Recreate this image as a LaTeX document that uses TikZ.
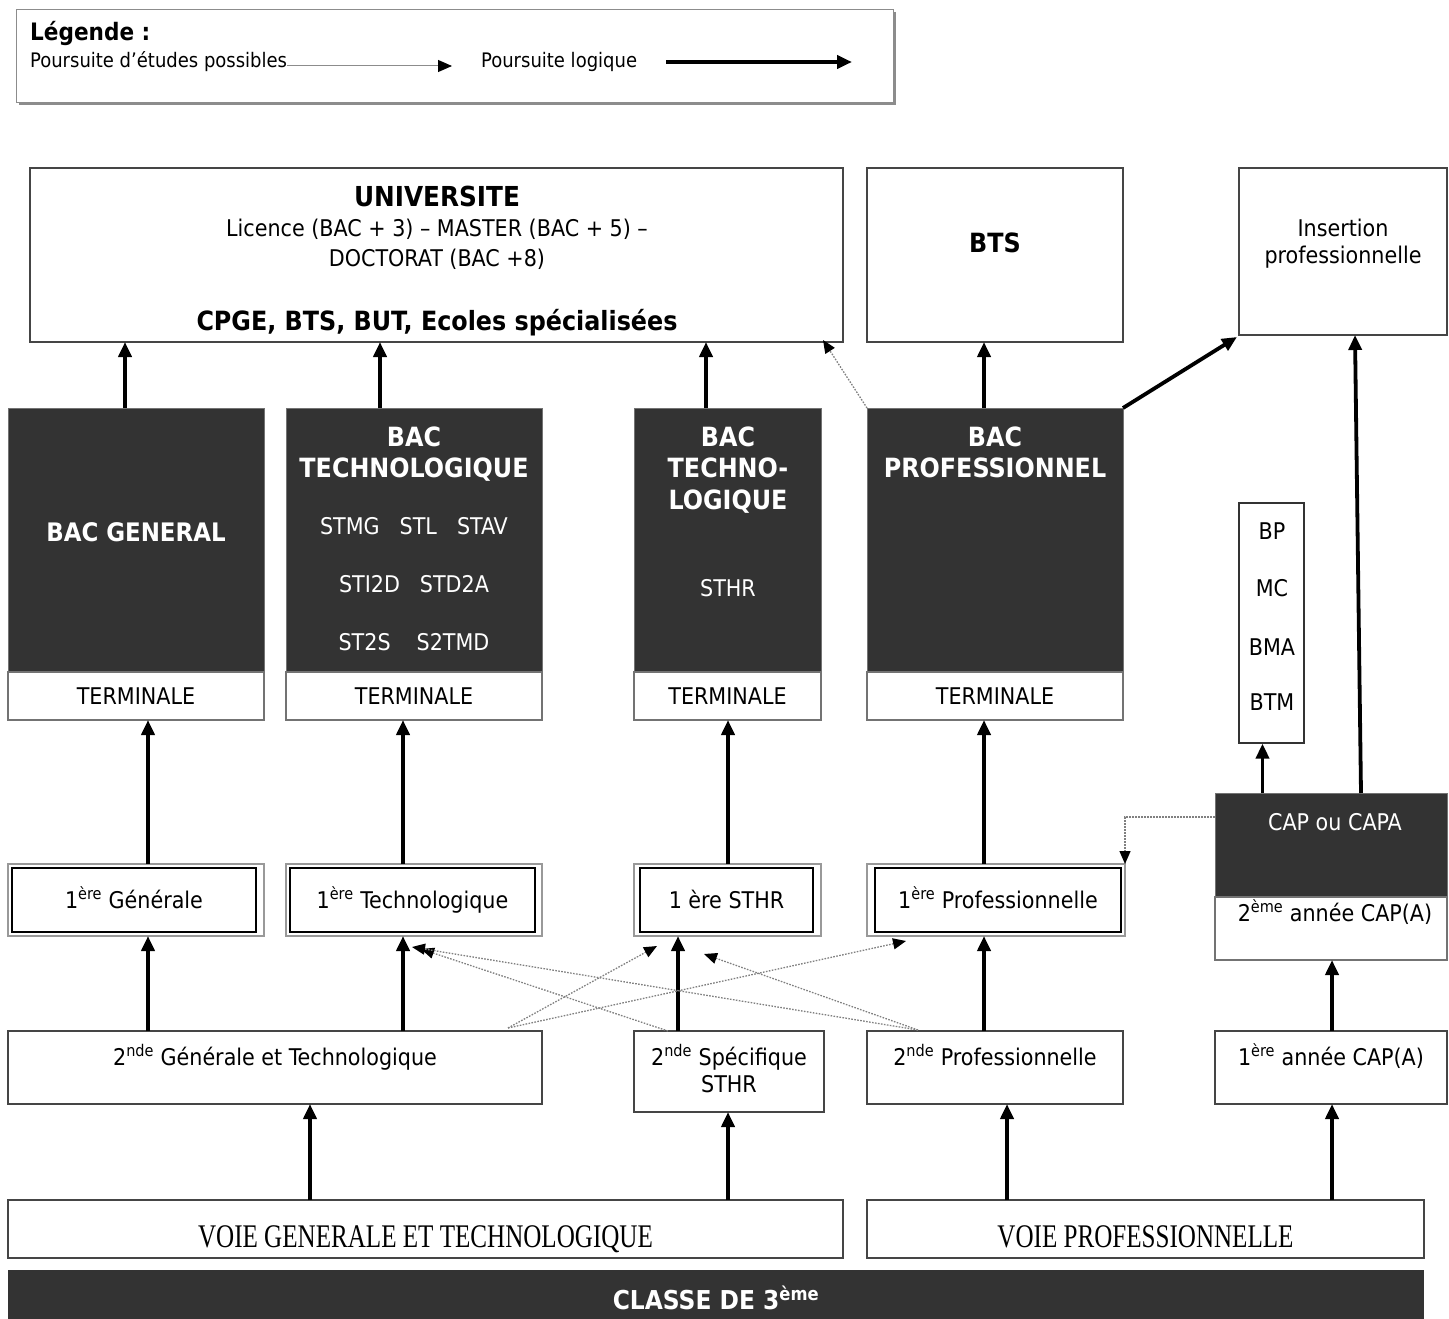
\documentclass[tikz,border=0pt]{standalone}
\usepackage{fontspec}
\setmainfont{DejaVu Sans Condensed}
\newfontfamily\serifc[FakeStretch=0.76]{Liberation Serif}
\usetikzlibrary{arrows.meta}
\definecolor{dk}{HTML}{333333}
\definecolor{ln}{HTML}{454545}
\begin{document}
\begin{tikzpicture}[x=1pt,y=-1pt,
  bx/.style={draw=ln, line width=1.4pt, inner sep=0pt, outer sep=0pt, fill=white},
  dkbox/.style={fill=dk, draw=black!55, line width=1pt, inner sep=0pt, outer sep=0pt},
  tbox/.style={fill=white, draw=black!55, line width=1.2pt, inner sep=0pt, outer sep=0pt,
     font=\fontsize{23}{27}\selectfont, text height=17pt, text depth=0pt},
  outerbox/.style={draw=black!40, line width=1.6pt, fill=white, inner sep=0pt, outer sep=0pt},
  innerbox/.style={draw=black, line width=1.2pt, inner sep=0pt, outer sep=0pt,
     font=\fontsize{23}{27}\selectfont, text height=17pt, text depth=0pt},
  lbl/.style={inner sep=0pt, font=\fontsize{23}{27}\selectfont, text height=17pt, text depth=0pt},
  wlbl/.style={lbl, text=white},
  blbl/.style={inner sep=0pt, font=\fontsize{26.5}{31}\selectfont\bfseries, text height=20pt, text depth=0pt},
  wblbl/.style={blbl, text=white},
  vlbl/.style={inner sep=0pt, font=\serifc\fontsize{33}{37}\selectfont, text height=22pt, text depth=0pt},
  leglbl/.style={inner sep=0pt, anchor=west, font=\fontsize{20}{23}\selectfont, text height=14.5pt, text depth=0pt},
  big/.style={line width=3.8pt, -{Triangle[length=15pt,width=13pt]}},
  dots/.style={draw=black!50, line width=1.3pt, dash pattern=on 1.6pt off 1.4pt,
     -{Triangle[length=13pt,width=11pt,color=black]}},
]
\useasboundingbox (0,0) rectangle (1449,1319);

% ---------- legend
\node[fill=black!45, minimum width=877, minimum height=93, inner sep=0pt] (legsh) at (457,59) {};
\node[bx, draw=black!45, line width=1pt, minimum width=877, minimum height=93] (leg) at (454.5,56.5) {};
\node[inner sep=0pt, anchor=west, font=\fontsize{24}{28}\selectfont\bfseries, text height=17pt, text depth=0pt] (legt) at (30,32) {Légende :};
\node[leglbl] (leg1) at (30,60) {Poursuite d’études possibles};
\node[leglbl] (leg2) at (481,60) {Poursuite logique};
\coordinate (la2) at (452,66);
\draw[black!45, line width=1pt, -{Triangle[length=14pt,width=12pt,color=black]}] ([yshift=-6]leg1.east) -- (la2);
\coordinate (lb1) at (666,62); \coordinate (lb2) at (852,62);
\draw[big] (lb1) -- (lb2);

% ---------- top boxes
\node[bx, minimum width=813, minimum height=174] (univ) at (436.5,255) {};
\node[blbl, font=\fontsize{27.5}{31}\selectfont\bfseries] (u1) at (437,196) {UNIVERSITE};
\node[lbl] (u2) at (437,228) {Licence (BAC + 3) – MASTER (BAC + 5) –};
\node[lbl] (u3) at (437,258) {DOCTORAT (BAC +8)};
\node[blbl] (u4) at (437,320) {CPGE, BTS, BUT, Ecoles spécialisées};

\node[bx, minimum width=256, minimum height=174] (bts) at (995,255) {};
\node[blbl] (btst) at (995,242) {BTS};

\node[bx, minimum width=208, minimum height=167] (ins) at (1343,251.5) {};
\node[lbl] (ins1) at (1343,228) {Insertion};
\node[lbl] (ins2) at (1343,255) {professionnelle};

% ---------- bac blocks
\node[dkbox, minimum width=256, minimum height=264] (bacg) at (136,540) {};
\node[tbox, minimum width=256, minimum height=48] (termg) at (136,696) {TERMINALE};
\node[wblbl, font=\fontsize{25.5}{30}\selectfont\bfseries] (bacgt) at (136,531) {BAC GENERAL};

\node[dkbox, minimum width=256, minimum height=264] (bact) at (414,540) {};
\node[tbox, minimum width=256, minimum height=48] (termt) at (414,696) {TERMINALE};
\node[wblbl] (bact1) at (414,436) {BAC};
\node[wblbl] (bact2) at (414,467) {TECHNOLOGIQUE};
\node[wlbl] (bact3) at (414,526) {STMG\hspace{20pt}STL\hspace{20pt}STAV};
\node[wlbl] (bact4) at (414,584) {STI2D\hspace{20pt}STD2A};
\node[wlbl] (bact5) at (414,642) {ST2S\hspace{26pt}S2TMD};

\node[dkbox, minimum width=187, minimum height=264] (bacs) at (727.5,540) {};
\node[tbox, minimum width=187, minimum height=48] (terms) at (727.5,696) {TERMINALE};
\node[wblbl] (bacs1) at (728,436) {BAC};
\node[wblbl] (bacs2) at (728,467) {TECHNO-};
\node[wblbl] (bacs3) at (728,499) {LOGIQUE};
\node[wlbl] (bacs4) at (728,588) {STHR};

\node[dkbox, minimum width=256, minimum height=264] (bacp) at (995,540) {};
\node[tbox, minimum width=256, minimum height=48] (termp) at (995,696) {TERMINALE};
\node[wblbl] (bacp1) at (995,436) {BAC};
\node[wblbl] (bacp2) at (995,467) {PROFESSIONNEL};

% ---------- BP box
\node[draw=black!80, line width=1.2pt, fill=white, inner sep=0pt, minimum width=65, minimum height=240] (bp) at (1271.5,623) {};
\node[lbl] (bp1) at (1272,531) {BP};
\node[lbl] (bp2) at (1272,588) {MC};
\node[lbl] (bp3) at (1272,647) {BMA};
\node[lbl] (bp4) at (1272,702) {BTM};

% ---------- CAP
\node[dkbox, minimum width=232, minimum height=104] (cap) at (1331,845) {};
\node[tbox, minimum width=232, minimum height=63] (cap2) at (1331,928.5) {};
\node[wlbl] (capt) at (1335,822) {CAP ou CAPA};
\node[lbl] (cap2t) at (1335,913) {2\textsuperscript{ème} année CAP(A)};

% ---------- 1ere row
\node[outerbox, minimum width=256, minimum height=72] (prg) at (136,900) {};
\node[innerbox, minimum width=244, minimum height=64] (prgi) at (134,900) {1\textsuperscript{ère} Générale};
\node[outerbox, minimum width=256, minimum height=72] (prt) at (414,900) {};
\node[innerbox, minimum width=245, minimum height=64] (prti) at (412.5,900) {1\textsuperscript{ère} Technologique};
\node[outerbox, minimum width=187, minimum height=72] (prs) at (727.5,900) {};
\node[innerbox, minimum width=173, minimum height=64] (prsi) at (726.5,900) {1 ère STHR};
\node[outerbox, minimum width=258, minimum height=72] (prp) at (996,900) {};
\node[innerbox, minimum width=246, minimum height=64] (prpi) at (998,900) {1\textsuperscript{ère} Professionnelle};

% ---------- 2nde row
\node[bx, line width=1.2pt, minimum width=534, minimum height=73] (sgt) at (275,1067.5) {};
\node[lbl] (sgtt) at (275,1057) {2\textsuperscript{nde} Générale et Technologique};
\node[bx, line width=1.2pt, minimum width=190, minimum height=81] (ssp) at (729,1071.5) {};
\node[lbl] (ssp1) at (729,1057) {2\textsuperscript{nde} Spécifique};
\node[lbl] (ssp2) at (729,1084) {STHR};
\node[bx, line width=1.2pt, minimum width=256, minimum height=73] (spr) at (995,1067.5) {};
\node[lbl] (sprt) at (995,1057) {2\textsuperscript{nde} Professionnelle};
\node[bx, line width=1.2pt, minimum width=232, minimum height=73] (cap1) at (1331,1067.5) {};
\node[lbl] (cap1t) at (1331,1057) {1\textsuperscript{ère} année CAP(A)};

% ---------- voies
\node[bx, line width=1.2pt, minimum width=835, minimum height=58] (vgt) at (425.5,1229) {};
\node[vlbl] (vgtt) at (425.5,1236) {VOIE GENERALE ET TECHNOLOGIQUE};
\node[bx, line width=1.2pt, minimum width=557, minimum height=58] (vpr) at (1145.5,1229) {};
\node[vlbl] (vprt) at (1145.5,1236) {VOIE PROFESSIONNELLE};

\node[fill=dk, inner sep=0pt, minimum width=1416, minimum height=49] (cl3) at (716,1294.5) {};
\node[inner sep=0pt, text=white, font=\fontsize{26}{30}\selectfont\bfseries, text height=19pt, text depth=0pt] (cl3t) at (716,1300) {CLASSE DE 3\textsuperscript{ème}};

% ---------- thick arrows
\draw[big] ([xshift=-11]bacg.north) -- ([xshift=-11]bacg.north |- univ.south);
\draw[big] ([xshift=-34]bact.north) -- ([xshift=-34]bact.north |- univ.south);
\draw[big] ([xshift=-21.5]bacs.north) -- ([xshift=-21.5]bacs.north |- univ.south);
\draw[big] ([xshift=-11]bacp.north) -- ([xshift=-11]bacp.north |- bts.south);
\draw[big] (bacp.north east) -- ([xshift=-2,yshift=-2]ins.south west);
\draw[big] ([xshift=30]cap.north) -- ([xshift=12]ins.south);
\draw[big] ([xshift=-68.5]cap.north) -- ([xshift=-68.5]cap.north |- bp.south);

\draw[big] ([xshift=12]prg.north) -- ([xshift=12]prg.north |- termg.south);
\draw[big] ([xshift=-11]prt.north) -- ([xshift=-11]prt.north |- termt.south);
\draw[big] ([xshift=0.5]prs.north) -- ([xshift=0.5]prs.north |- terms.south);
\draw[big] ([xshift=-12]prp.north) -- ([xshift=-12]prp.north |- termp.south);

\draw[big] ([xshift=-127]sgt.north) -- ([xshift=-127]sgt.north |- prg.south);
\draw[big] ([xshift=128]sgt.north) -- ([xshift=128]sgt.north |- prt.south);
\draw[big] ([xshift=-51]ssp.north) -- ([xshift=-51]ssp.north |- prs.south);
\draw[big] ([xshift=-11]spr.north) -- ([xshift=-11]spr.north |- prp.south);
\draw[big] ([xshift=1]cap1.north) -- ([xshift=1]cap1.north |- cap2.south);

\draw[big] ([xshift=-115.5]vgt.north) -- ([xshift=-115.5]vgt.north |- sgt.south);
\draw[big] ([xshift=302.5]vgt.north) -- ([xshift=302.5]vgt.north |- ssp.south);
\draw[big] ([xshift=-138.5]vpr.north) -- ([xshift=-138.5]vpr.north |- spr.south);
\draw[big] ([xshift=186.5]vpr.north) -- ([xshift=186.5]vpr.north |- cap1.south);

% ---------- dotted arrows
\draw[dots] (bacp.north west) -- ([xshift=-20,yshift=2]univ.south east);
\draw[dots] ([yshift=28]cap.west) -| (prp.north east);
\draw[dots] ([xshift=233,yshift=3]sgt.north) -- ([xshift=-70.5,yshift=-10]prs.south);
\draw[dots] ([xshift=233,yshift=3]sgt.north) -- ([xshift=-90,yshift=-5]prp.south);
\draw[dots] ([xshift=-61]ssp.north) -- ([xshift=7,yshift=-13]prt.south);
\draw[dots] ([xshift=-77,yshift=1]spr.north) -- ([xshift=-2,yshift=-11]prt.south);
\draw[dots] ([xshift=-77,yshift=1]spr.north) -- ([xshift=-23.5,yshift=-18]prs.south);
\end{tikzpicture}
\end{document}
